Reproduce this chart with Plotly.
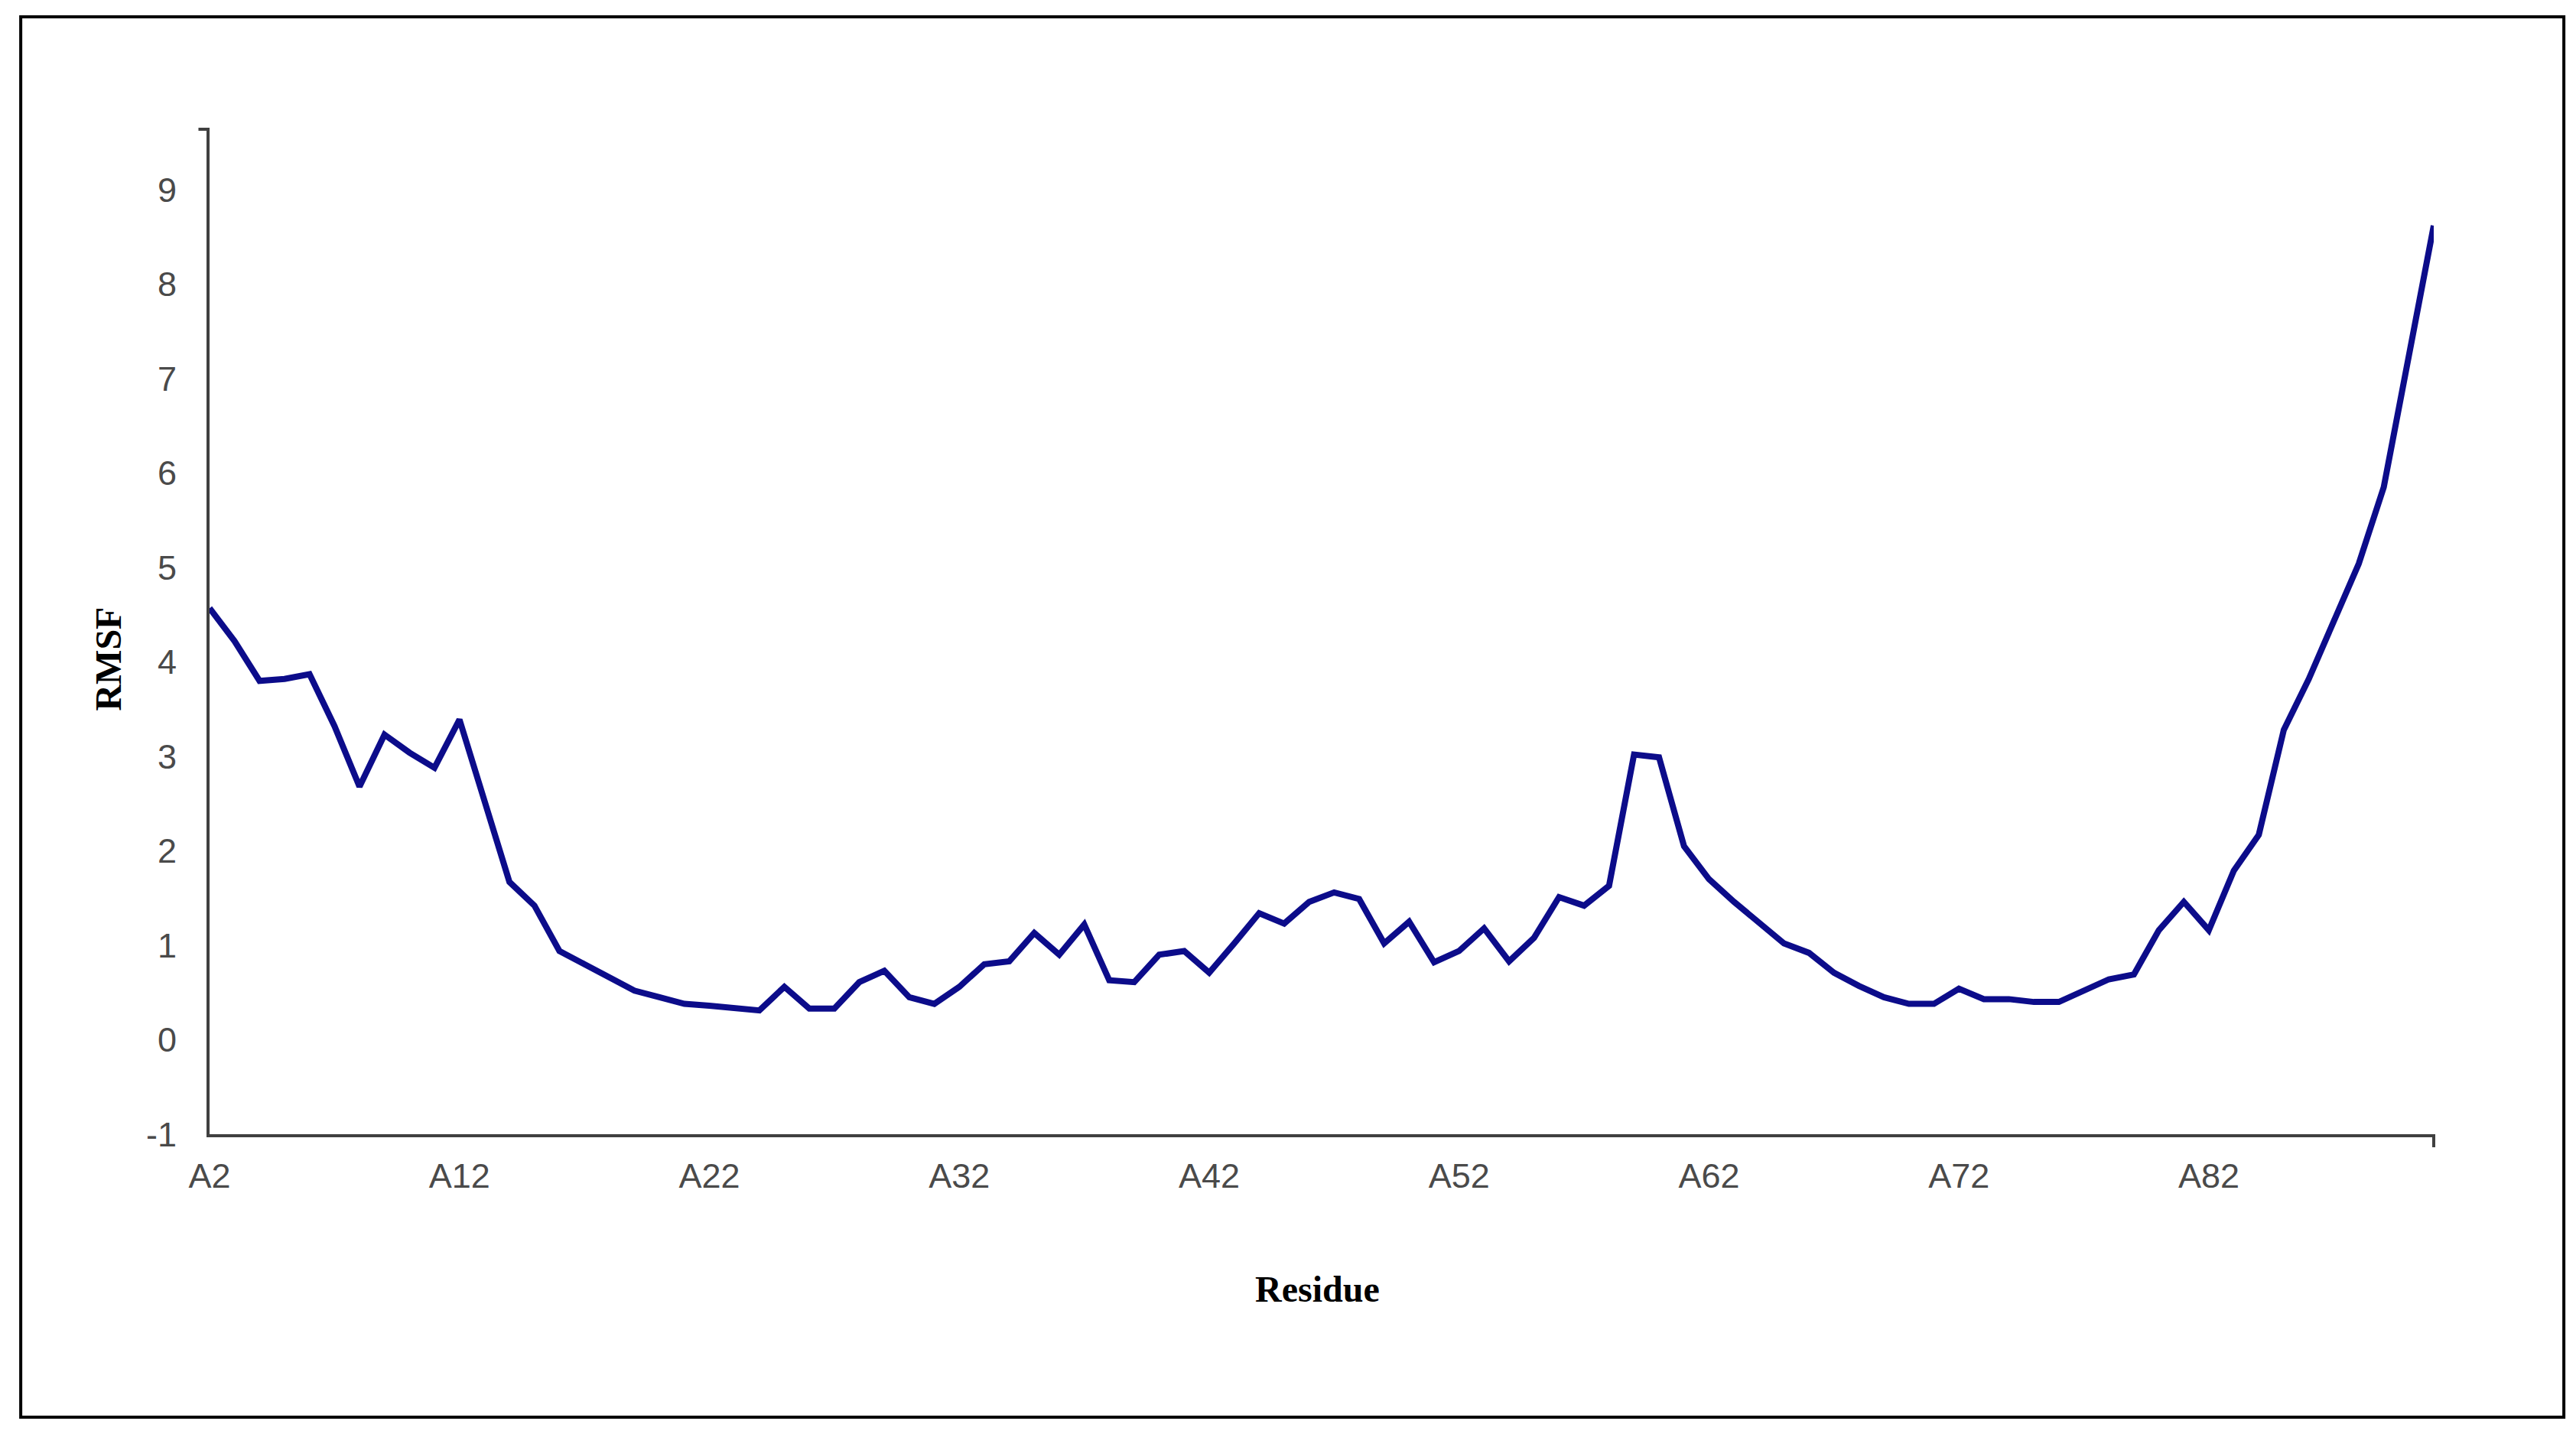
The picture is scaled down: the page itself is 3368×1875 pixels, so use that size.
import plotly.graph_objects as go

residues = ["A2", "A3", "A4", "A5", "A6", "A7", "A8", "A9", "A10", "A11",
            "A12", "A13", "A14", "A15", "A16", "A17", "A18", "A19", "A20", "A21",
            "A22", "A23", "A24", "A25", "A26", "A27", "A28", "A29", "A30", "A31",
            "A32", "A33", "A34", "A35", "A36", "A37", "A38", "A39", "A40", "A41",
            "A42", "A43", "A44", "A45", "A46", "A47", "A48", "A49", "A50", "A51",
            "A52", "A53", "A54", "A55", "A56", "A57", "A58", "A59", "A60", "A61",
            "A62", "A63", "A64", "A65", "A66", "A67", "A68", "A69", "A70", "A71",
            "A72", "A73", "A74", "A75", "A76", "A77", "A78", "A79", "A80", "A81",
            "A82", "A83", "A84", "A85", "A86", "A87", "A88", "A89", "A90", "A91"]

rmsf = [4.57, 4.22, 3.80, 3.82, 3.87, 3.32, 2.68, 3.23, 3.04, 2.88,
        3.39, 2.55, 1.67, 1.42, 0.94, 0.80, 0.66, 0.52, 0.45, 0.38,
        0.36, 0.33, 0.31, 0.56, 0.33, 0.33, 0.61, 0.73, 0.45, 0.38,
        0.56, 0.80, 0.83, 1.13, 0.90, 1.22, 0.63, 0.61, 0.90, 0.94,
        0.71, 1.02, 1.34, 1.23, 1.46, 1.56, 1.49, 1.02, 1.25, 0.82,
        0.94, 1.18, 0.83, 1.08, 1.51, 1.42, 1.63, 3.02, 2.99, 2.05,
        1.70, 1.46, 1.25, 1.02, 0.92, 0.71, 0.57, 0.45, 0.38, 0.38,
        0.54, 0.43, 0.43, 0.40, 0.40, 0.52, 0.64, 0.69, 1.16, 1.46,
        1.16, 1.79, 2.17, 3.28, 3.82, 4.43, 5.04, 5.85, 7.26, 8.62]

x_ticks = ["A2", "A12", "A22", "A32", "A42", "A52", "A62", "A72", "A82"]
y_ticks = [-1, 0, 1, 2, 3, 4, 5, 6, 7, 8, 9]
y_ticktext = ["-1", "0", "1", "2", "3", "4", "5", "6", "7", "8", "9"]

fig = go.Figure()
fig.add_trace(go.Scatter(
    x=residues, y=rmsf, mode="lines",
    line=dict(color="#0c0c8a", width=8),
    showlegend=False,
))

tick_font = dict(family="Liberation Sans Narrow, Arial Narrow, Liberation Sans, Arial",
                 size=45, color="#4a4a4a")

fig.update_layout(
    width=3368, height=1875,
    paper_bgcolor="white", plot_bgcolor="white",
    margin=dict(l=266, r=194, t=161, b=400),
    xaxis=dict(
        type="category", range=[0, len(residues) - 1],
        tickvals=x_ticks, ticktext=x_ticks,
        showgrid=False, zeroline=False,
        showline=True, linecolor="#404040", linewidth=4,
        ticks="", ticklabelstandoff=12,
        tickfont=tick_font,
    ),
    yaxis=dict(
        range=[-1, 9.64],
        tickvals=y_ticks, ticktext=y_ticktext,
        showgrid=False, zeroline=False,
        showline=True, linecolor="#404040", linewidth=4,
        ticks="", ticklabelstandoff=30,
        tickfont=tick_font,
    ),
    shapes=[
        dict(type="rect", xref="paper", yref="paper",
             x0=-0.0849, x1=1.0585, y0=-0.2816, y1=1.1119,
             line=dict(color="black", width=4), fillcolor="rgba(0,0,0,0)"),
        dict(type="line", xref="paper", yref="paper",
             x0=1, x1=1, y0=0, y1=-0.013,
             line=dict(color="#404040", width=4)),
        dict(type="line", xref="paper", yref="paper",
             x0=0, x1=-0.005, y0=1, y1=1,
             line=dict(color="#404040", width=4)),
    ],
    annotations=[
        dict(text="<b>RMSF</b>", xref="paper", yref="paper",
             x=-0.0457, y=0.473, textangle=-90, showarrow=False,
             xanchor="center", yanchor="middle",
             font=dict(family="Liberation Serif, Times New Roman", size=48, color="black")),
        dict(text="<b>Residue</b>", xref="paper", yref="paper",
             x=0.498, y=-0.154, showarrow=False,
             xanchor="center", yanchor="middle",
             font=dict(family="Liberation Serif, Times New Roman", size=48, color="black")),
    ],
)

fig.write_html("out.html")
